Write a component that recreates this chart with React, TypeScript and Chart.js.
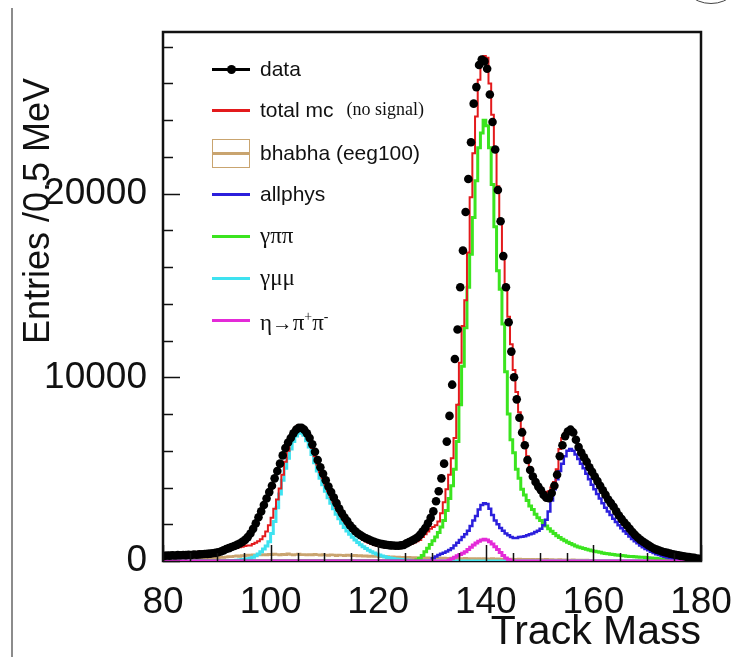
import React, { useEffect, useRef } from "react";
import { Chart, registerables } from "chart.js";

Chart.register(...registerables);

// ---------- axis / binning ----------
const X_MIN = 80;
const X_MAX = 180;
const Y_MIN = 0;
const Y_MAX = 28800;
const BIN_START = 80.25; // centre of the first 0.5 MeV bin
const BIN_WIDTH = 0.5;
const N_BINS = 200;
const X_TICKS = [80, 100, 120, 140, 160, 180];
const Y_TICKS = [0, 10000, 20000];
const X_MINOR_STEP = 5;
const Y_MINOR_STEP = 2000;
const X_TITLE = "Track Mass";
const Y_TITLE = "Entries /0.5 MeV";

// ---------- series (one value per 0.5 MeV bin, 10 bins per row) ----------
const dataValues = [
  280, 300, 290, 310, 300, 320, 310, 330, 320, 340, // 80-85
  330, 350, 340, 360, 370, 380, 390, 400, 420, 440, // 85-90
  480, 520, 580, 650, 700, 760, 820, 880, 950, 1040, // 90-95
  1150, 1300, 1500, 1750, 2050, 2380, 2700, 3050, 3400, 3750, // 95-100
  4100, 4500, 4900, 5300, 5750, 6150, 6450, 6700, 6950, 7150, // 100-105
  7250, 7250, 7150, 6950, 6700, 6350, 5950, 5500, 5100, 4750, // 105-110
  4400, 4050, 3750, 3450, 3150, 2850, 2600, 2370, 2170, 1950, // 110-115
  1780, 1620, 1500, 1400, 1310, 1240, 1170, 1100, 1040, 990, // 115-120
  950, 920, 890, 870, 850, 840, 830, 830, 850, 870, // 120-125
  960, 1030, 1100, 1180, 1280, 1420, 1600, 1800, 2050, 2350, // 125-130
  2700, 3250, 3800, 4500, 5300, 6500, 7900, 9600, 11000, 12600, // 130-135
  14900, 16900, 19000, 20800, 22800, 24900, 25800, 27000, 27300, 27200, // 135-140
  26800, 25400, 23900, 22400, 20200, 18500, 16600, 14900, 13000, 11400, // 140-145
  10000, 8800, 7800, 7000, 6300, 5500, 4950, 4600, 4300, 4050, // 145-150
  3850, 3600, 3450, 3420, 3700, 4100, 4700, 5700, 6300, 6800, // 150-155
  7050, 7150, 7000, 6600, 6200, 5900, 5650, 5400, 5100, 4850, // 155-160
  4600, 4350, 4100, 3850, 3600, 3350, 3150, 2950, 2700, 2480, // 160-165
  2280, 2100, 1930, 1750, 1580, 1420, 1280, 1150, 1050, 950, // 165-170
  850, 760, 680, 620, 570, 520, 480, 440, 400, 370, // 170-175
  340, 310, 280, 260, 230, 210, 190, 170, 140, 120, // 175-180
];

const totalMcValues = [
  330, 350, 340, 360, 370, 390, 380, 400, 420, 430, // 80-85
  450, 470, 480, 500, 510, 520, 530, 540, 550, 560, // 85-90
  570, 580, 600, 620, 640, 660, 690, 720, 750, 780, // 90-95
  810, 840, 850, 920, 1000, 1080, 1180, 1350, 1600, 1950, // 95-100
  2350, 2850, 3350, 3950, 4700, 5400, 6000, 6600, 7000, 7300, // 100-105
  7400, 7350, 7150, 6900, 6550, 6150, 5700, 5250, 4850, 4500, // 105-110
  4150, 3800, 3500, 3200, 2900, 2650, 2400, 2180, 1980, 1800, // 110-115
  1640, 1490, 1360, 1250, 1150, 1060, 990, 930, 880, 840, // 115-120
  800, 770, 750, 740, 740, 750, 760, 780, 800, 830, // 120-125
  860, 900, 950, 1010, 1080, 1150, 1300, 1450, 1600, 1750, // 125-130
  1850, 1950, 2150, 2600, 3200, 3900, 4700, 5600, 6700, 8500, // 130-135
  10800, 12800, 14200, 16800, 19800, 22200, 24200, 26200, 27200, 27500, // 135-140
  27400, 26000, 24300, 22500, 20400, 18500, 16700, 15000, 13300, 11800, // 140-145
  10400, 9200, 8100, 7200, 6400, 5700, 5100, 4650, 4300, 4000, // 145-150
  3850, 3750, 3750, 3800, 4000, 4300, 5000, 6100, 6700, 6950, // 150-155
  7100, 7100, 6950, 6650, 6300, 5950, 5650, 5350, 5050, 4750, // 155-160
  4500, 4250, 4000, 3750, 3500, 3280, 3060, 2850, 2650, 2450, // 160-165
  2250, 2070, 1900, 1740, 1590, 1450, 1310, 1180, 1070, 970, // 165-170
  870, 780, 700, 630, 570, 510, 460, 420, 380, 340, // 170-175
  310, 280, 250, 220, 200, 180, 160, 140, 120, 100, // 175-180
];

const bhabhaValues = [
  80, 100, 90, 110, 100, 120, 90, 110, 130, 100, // 80-85
  120, 110, 140, 120, 130, 150, 140, 160, 150, 170, // 85-90
  180, 200, 190, 220, 240, 230, 260, 280, 250, 300, // 90-95
  290, 320, 300, 340, 310, 350, 330, 360, 320, 370, // 95-100
  340, 380, 350, 330, 370, 340, 390, 360, 330, 350, // 100-105
  380, 340, 360, 320, 350, 330, 370, 340, 310, 350, // 105-110
  330, 300, 340, 320, 290, 330, 310, 280, 320, 300, // 110-115
  280, 310, 270, 300, 260, 280, 250, 270, 240, 260, // 115-120
  230, 250, 220, 240, 210, 230, 200, 220, 190, 210, // 120-125
  180, 200, 170, 190, 160, 180, 170, 160, 180, 150, // 125-130
  160, 150, 170, 140, 160, 150, 140, 160, 130, 150, // 130-135
  140, 130, 150, 120, 140, 130, 120, 140, 110, 130, // 135-140
  120, 110, 130, 100, 120, 110, 100, 120, 90, 110, // 140-145
  100, 90, 110, 80, 100, 90, 80, 100, 70, 90, // 145-150
  80, 70, 90, 60, 80, 70, 60, 80, 50, 70, // 150-155
  60, 50, 70, 40, 60, 50, 40, 50, 30, 40, // 155-160
  30, 40, 20, 30, 20, 30, 20, 10, 20, 10, // 160-165
  10, 20, 10, 10, 0, 10, 0, 10, 0, 0, // 165-170
  0, 0, 0, 0, 0, 0, 0, 0, 0, 0, // 170-175
  0, 0, 0, 0, 0, 0, 0, 0, 0, 0, // 175-180
];

const allphysStart = 130.25;
const allphysValues = [
  150, 250, 330, 400, 450, 520, 600, 700, 850, 1000, // 130-135
  1150, 1300, 1450, 1650, 1900, 2200, 2450, 2800, 3050, 3150, // 135-140
  3100, 2850, 2500, 2200, 2000, 1800, 1650, 1500, 1400, 1300, // 140-145
  1250, 1250, 1300, 1320, 1350, 1400, 1450, 1500, 1580, 1650, // 145-150
  1750, 1950, 2250, 2700, 3300, 3900, 4450, 4900, 5300, 5700, // 150-155
  6000, 6100, 6000, 5800, 5550, 5300, 5050, 4750, 4450, 4150, // 155-160
  3900, 3650, 3400, 3150, 2900, 2700, 2500, 2300, 2120, 1950, // 160-165
  1780, 1620, 1480, 1340, 1200, 1080, 960, 850, 750, 660, // 165-170
  580, 500, 430, 370, 320, 270, 230, 190, 160, 130, // 170-175
  100, 80, 60, 45, 30, 20, 10, 5, 0, 0, // 175-180
];

const gammaPiPiStart = 127.25;
const gammaPiPiValues = [
  50, 150, 300, 500, 700, 900, 1100, 1300, 1550, 1850, // 127-132
  2200, 2750, 3400, 4100, 5000, 6500, 8500, 10600, 12700, 14900, // 132-137
  16700, 18700, 20700, 22500, 23300, 24000, 23700, 22500, 20500, 18200, // 137-142
  15800, 14800, 12900, 10300, 8000, 6600, 5900, 5000, 4500, 3900, // 142-147
  3600, 3300, 3000, 2800, 2550, 2350, 2200, 2050, 1900, 1750, // 147-152
  1620, 1500, 1380, 1280, 1180, 1100, 1020, 950, 880, 820, // 152-157
  760, 720, 680, 640, 600, 560, 530, 500, 470, 440, // 157-162
  410, 390, 370, 350, 330, 310, 295, 280, 265, 250, // 162-167
  240, 230, 220, 210, 200, 190, 180, 170, 150, 130, // 167-172
  110, 90, 70, 50, 30, 15, // 172-175
];

const gammaMuMuStart = 92.25;
const gammaMuMuValues = [
  10, 20, 30, 45, 60, 80, 100, 120, 150, 200, // 92-97
  280, 380, 500, 650, 820, 1050, 1500, 2150, 2900, 3650, // 97-102
  4400, 5050, 5600, 6100, 6500, 6800, 6950, 7000, 6850, 6550, // 102-107
  6200, 5800, 5350, 4900, 4500, 4150, 3800, 3450, 3150, 2850, // 107-112
  2550, 2300, 2050, 1830, 1630, 1450, 1290, 1140, 1010, 890, // 112-117
  780, 680, 590, 510, 440, 380, 320, 270, 230, 190, // 117-122
  160, 130, 110, 90, 75, 60, 50, 40, 30, 25, // 122-127
  20, 15, 10, // 127-128.5
];

const etaStart = 133.25;
const etaValues = [
  50, 120, 200, 280, 350, 420, 500, 620, 750, 870, // 133-138
  980, 1080, 1150, 1180, 1150, 1050, 920, 780, 620, 460, // 138-143
  300, 170, 80, 30, // 143-145
];

// ---------- helpers ----------
function padBins(start: number, values: number[]): number[] {
  const out = new Array(N_BINS).fill(0);
  const offset = Math.round((start - BIN_START) / BIN_WIDTH);
  values.forEach((v, i) => {
    if (offset + i >= 0 && offset + i < N_BINS) out[offset + i] = v;
  });
  return out;
}

function histPoints(values: number[]) {
  const pts = values.map((v, i) => ({ x: BIN_START + i * BIN_WIDTH, y: v }));
  return [{ x: X_MIN, y: values[0] }, ...pts, { x: X_MAX, y: values[values.length - 1] }];
}

function scatterPoints(values: number[]) {
  return values.map((v, i) => ({ x: BIN_START + i * BIN_WIDTH, y: v }));
}

const COLORS = {
  data: "#000000",
  total: "#e31a1c",
  bhabha: "#c9a46f",
  allphys: "#2b1fdc",
  gpp: "#3be41f",
  gmm: "#3ee2f0",
  eta: "#e42ad8",
};

const FONT = '"Liberation Sans", Arial, Helvetica, sans-serif';
const SERIF = '"Liberation Serif", "Times New Roman", serif';

const rootStyle = {
  id: "rootStyle",
  beforeDatasetsDraw(chart: any) {
    const { ctx, chartArea } = chart;
    const { left, top, right, bottom } = chartArea;
    ctx.save();
    ctx.strokeStyle = "#111";
    ctx.lineWidth = 2.5;
    ctx.strokeRect(left, top, right - left, bottom - top);
    ctx.restore();
  },
  afterDatasetsDraw(chart: any) {
    const { ctx, chartArea } = chart;
    const { left, bottom } = chartArea;
    const xs = chart.scales.x;
    const ys = chart.scales.y;
    ctx.save();
    ctx.strokeStyle = "#111";
    ctx.lineWidth = 1.5;
    ctx.beginPath();
    for (let v = X_MIN; v <= X_MAX; v += X_MINOR_STEP) {
      const px = Math.round(xs.getPixelForValue(v)) + 0.5;
      const len = X_TICKS.includes(v) ? 16 : 8;
      ctx.moveTo(px, bottom);
      ctx.lineTo(px, bottom - len);
    }
    for (let v = Y_MIN; v <= Y_MAX; v += Y_MINOR_STEP) {
      const py = Math.round(ys.getPixelForValue(v)) + 0.5;
      const len = v % 10000 === 0 ? 17 : 10;
      ctx.moveTo(left, py);
      ctx.lineTo(left + len, py);
    }
    ctx.stroke();
    ctx.restore();
  },
  afterDraw(chart: any) {
    const { ctx } = chart;
    ctx.save();
    ctx.translate(49, 344);
    ctx.rotate(-Math.PI / 2);
    ctx.font = `36px ${FONT}`;
    ctx.fillStyle = "#111";
    ctx.textAlign = "left";
    ctx.textBaseline = "alphabetic";
    ctx.fillText(Y_TITLE, 0, 0);
    ctx.restore();
  },
};

const LEGEND_ROWS = [
  { y: 69, kind: "data", color: COLORS.data, label: "data" },
  { y: 110, kind: "line", color: COLORS.total, label: "total mc", note: "(no signal)" },
  { y: 153, kind: "box", color: COLORS.bhabha, label: "bhabha (eeg100)" },
  { y: 194, kind: "line", color: COLORS.allphys, label: "allphys" },
  { y: 236, kind: "line", color: COLORS.gpp, label: "γππ", greek: true },
  { y: 278, kind: "line", color: COLORS.gmm, label: "γμμ", greek: true },
  { y: 320, kind: "line", color: COLORS.eta, label: "eta", greek: true },
];

function LegendRow({ row }: { row: any }) {
  const swatch =
    row.kind === "box" ? (
      <div
        style={{
          position: "relative",
          width: 38,
          height: 29,
          border: `1px solid ${row.color}`,
          boxSizing: "border-box",
        }}
      >
        <div style={{ position: "absolute", left: 0, right: 0, top: 12, height: 3, background: row.color }} />
      </div>
    ) : (
      <div style={{ position: "relative", width: 38, height: 29 }}>
        <div style={{ position: "absolute", left: 0, right: 0, top: 13, height: 3, background: row.color }} />
        {row.kind === "data" && (
          <div
            style={{
              position: "absolute",
              left: 15,
              top: 10,
              width: 9,
              height: 9,
              borderRadius: "50%",
              background: row.color,
            }}
          />
        )}
      </div>
    );
  let text: React.ReactNode = row.label;
  if (row.label === "eta") {
    text = (
      <span>
        η<span style={{ fontFamily: FONT, fontSize: "0.9em" }}>→</span>π
        <sup style={{ fontSize: "0.6em" }}>+</sup>π<sup style={{ fontSize: "0.6em" }}>-</sup>
      </span>
    );
  }
  return (
    <div
      style={{
        position: "absolute",
        left: 212,
        top: row.y - 15,
        height: 30,
        display: "flex",
        alignItems: "center",
        whiteSpace: "nowrap",
        color: "#111",
      }}
    >
      {swatch}
      <span
        style={{
          marginLeft: 10,
          fontFamily: row.greek ? SERIF : FONT,
          fontSize: row.greek ? 23 : 21,
          lineHeight: "30px",
        }}
      >
        {text}
      </span>
      {row.note && (
        <span style={{ marginLeft: 13, fontFamily: SERIF, fontSize: 18, lineHeight: "30px", position: "relative", top: -1 }}>
          {row.note}
        </span>
      )}
    </div>
  );
}

export default function App() {
  const canvasRef = useRef<HTMLCanvasElement | null>(null);

  useEffect(() => {
    if (!canvasRef.current) return;
    const lineDs = (label: string, values: number[], color: string, width: number) => ({
      label,
      data: histPoints(values),
      borderColor: color,
      backgroundColor: color,
      borderWidth: width,
      pointRadius: 0,
      stepped: "middle" as const,
      fill: false,
      tension: 0,
    });
    const noPad = (s: any) => {
      s.paddingLeft = 0;
      s.paddingRight = 0;
      s.paddingTop = 0;
      s.paddingBottom = 0;
    };
    const chart = new Chart(canvasRef.current, {
      type: "line",
      data: {
        datasets: [
          {
            label: "data",
            data: scatterPoints(dataValues),
            showLine: false,
            pointRadius: 4.3,
            pointBackgroundColor: COLORS.data,
            pointBorderColor: COLORS.data,
            pointBorderWidth: 0,
            borderColor: COLORS.data,
            backgroundColor: COLORS.data,
          } as any,
          lineDs("η→π+π-", padBins(etaStart, etaValues), COLORS.eta, 3),
          lineDs("total mc", totalMcValues, COLORS.total, 2),
          lineDs("allphys", padBins(allphysStart, allphysValues), COLORS.allphys, 2.5),
          lineDs("γππ", padBins(gammaPiPiStart, gammaPiPiValues), COLORS.gpp, 3),
          lineDs("γμμ", padBins(gammaMuMuStart, gammaMuMuValues), COLORS.gmm, 3),
          lineDs("bhabha (eeg100)", bhabhaValues, COLORS.bhabha, 2.5),
        ],
      },
      options: {
        animation: false,
        responsive: false,
        maintainAspectRatio: false,
        events: [],
        layout: { padding: { left: 0, top: 32, right: 37, bottom: 0 } },
        plugins: {
          legend: { display: false },
          tooltip: { enabled: false },
        },
        scales: {
          x: {
            type: "linear",
            min: X_MIN,
            max: X_MAX,
            afterFit: (s: any) => {
              s.height = 96;
              noPad(s);
            },
            afterBuildTicks: (s: any) => {
              s.ticks = X_TICKS.map((v) => ({ value: v }));
            },
            grid: { display: false, drawTicks: false },
            border: { display: false },
            ticks: {
              autoSkip: false,
              maxRotation: 0,
              padding: 20,
              color: "#111",
              font: { family: FONT, size: 37 },
              callback: (v: any) => String(v),
            },
            title: {
              display: true,
              text: X_TITLE,
              align: "end",
              color: "#111",
              font: { family: FONT, size: 41 },
              padding: 0,
            },
          },
          y: {
            type: "linear",
            min: Y_MIN,
            max: Y_MAX,
            afterFit: (s: any) => {
              s.width = 163;
              noPad(s);
            },
            afterBuildTicks: (s: any) => {
              s.ticks = Y_TICKS.map((v) => ({ value: v }));
            },
            grid: { display: false, drawTicks: false },
            border: { display: false },
            ticks: {
              autoSkip: false,
              padding: 16,
              color: "#111",
              font: { family: FONT, size: 37 },
              callback: (v: any) => String(v),
            },
          },
        },
      },
      plugins: [rootStyle],
    });
    return () => chart.destroy();
  }, []);

  return (
    <div
      style={{
        position: "absolute",
        left: 0,
        top: 0,
        width: 738,
        height: 657,
        overflow: "hidden",
        background: "#fff",
      }}
    >
      <div style={{ position: "absolute", left: 11, top: 8, width: 2, height: 660, background: "#8c8c8c" }} />
      <div
        style={{
          position: "absolute",
          left: 677,
          top: -64,
          width: 68,
          height: 68,
          border: "1.5px solid #444",
          borderRadius: "50%",
          boxSizing: "border-box",
        }}
      />
      <canvas
        ref={canvasRef}
        width={738}
        height={657}
        style={{ position: "absolute", left: 0, top: 0, width: 738, height: 657 }}
      />
      {LEGEND_ROWS.map((r) => (
        <LegendRow key={r.label} row={r} />
      ))}
    </div>
  );
}
